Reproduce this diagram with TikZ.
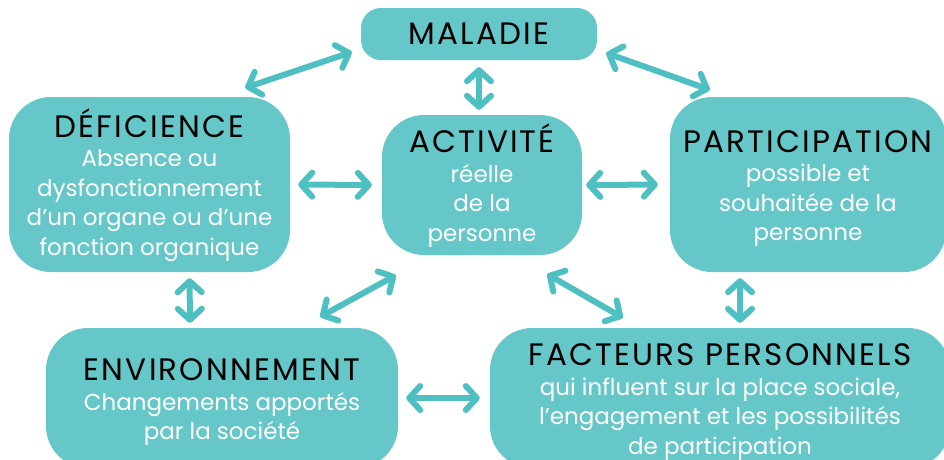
\documentclass[tikz,border=0pt]{standalone}
\usepackage{fontspec}
\setmainfont{Poppins}
\usetikzlibrary{arrows.meta,calc}

\definecolor{tealbox}{RGB}{102,199,200}
\definecolor{tealarrow}{RGB}{78,192,194}
\newcommand{\titlefont}{\color{black}\fontsize{31}{31}\selectfont\addfontfeature{LetterSpace=7}}
\newcommand{\boxtitle}[1]{{\titlefont\rule{0pt}{30pt}#1}}

\begin{document}
\begin{tikzpicture}[x=1pt, y=-1pt,
  box/.style={fill=tealbox, rounded corners=42pt, align=center, inner sep=0pt, text=white, font=\fontsize{23}{29.5}\selectfont},
  arrow/.style={{Straight Barb[length=11pt, width=24pt, round]}-{Straight Barb[length=11pt, width=24pt, round]}, line width=6pt, draw=tealarrow, line cap=round},
]
\useasboundingbox (0,0) rectangle (944,459);

% === Boxes ===
\node[box, rounded corners=20pt, minimum width=236pt, minimum height=52pt] (mal) at (479, 34) {{\titlefont MALADIE}};

\node[box, minimum width=281pt, minimum height=175pt] (def) at (149.5, 184.5)
  {\boxtitle{DÉFICIENCE}\\Absence ou\\dysfonctionnement\\d’un organe ou d’une\\fonction organique};

\node[box, minimum width=200pt, minimum height=140pt] (act) at (482, 185)
  {\boxtitle{ACTIVITÉ}\\réelle\\de la\\personne};

\node[box, minimum width=276pt, minimum height=175pt] (part) at (808, 184.5)
  {\boxtitle{PARTICIPATION}\\possible et\\souhaitée de la\\personne};

\node[box, minimum width=352pt, minimum height=140pt] (env) at (222, 398)
  {\boxtitle{ENVIRONNEMENT}\\Changements apportés\\par la société};

\node[box, minimum width=460pt, minimum height=140pt] (fact) at (720, 398)
  {\boxtitle{FACTEURS PERSONNELS}\\qui influent sur la place sociale,\\l’engagement et les possibilités\\de participation};

% === Arrows ===
\draw[arrow] ($(def.north east)+(-45,-9)$) -- ($(mal.west)+(-9,18)$);
\draw[arrow, shorten <=7pt, shorten >=5pt] (mal.south) -- (mal.south |- act.north);
\draw[arrow] ($(mal.east)+(9,19)$) -- ($(part.north west)+(40,-7)$);

\draw[arrow, shorten <=8pt, shorten >=10pt] (def.east) -- (act.west);
\draw[arrow, shorten <=4pt, shorten >=12pt] (act.east) -- (part.west);

\draw[arrow, shorten <=6pt, shorten >=5pt] ($(def.south)+(40,0)$) -- ($(env.north)+(-32,0)$);
\draw[arrow] ($(act.south west)+(14,20)$) -- ($(env.north east)+(-78,-11)$);
\draw[arrow] ($(act.south east)+(-35,19)$) -- ($(fact.north west)+(133,-10)$);
\draw[arrow, shorten <=6pt, shorten >=5pt] ($(part.south)+(-68,0)$) -- ($(fact.north)+(20,0)$);

\draw[arrow, shorten <=8pt, shorten >=10pt] (env.east) -- (fact.west);

\end{tikzpicture}
\end{document}
